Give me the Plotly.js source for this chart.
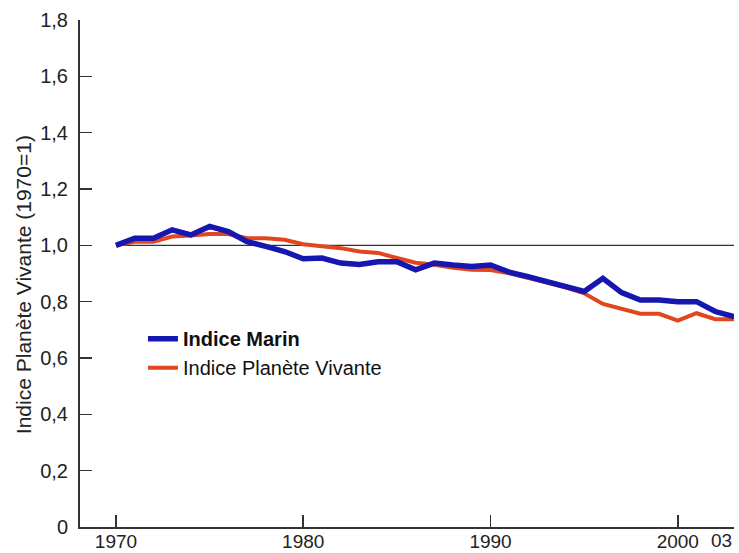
<!DOCTYPE html>
<html>
<head>
<meta charset="utf-8">
<script src="https://cdn.plot.ly/plotly-3.0.1.min.js"></script>
<style>html,body{margin:0;padding:0;background:#fff}#chart{width:739px;height:553px}</style>
</head>
<body>
<div id="chart"></div>
<script>
const years = [1970,1971,1972,1973,1974,1975,1976,1977,1978,1979,1980,1981,1982,1983,1984,1985,1986,1987,1988,1989,1990,1991,1992,1993,1994,1995,1996,1997,1998,1999,2000,2001,2002,2003];
const indiceMarin = [1.0,1.025,1.025,1.055,1.037,1.067,1.049,1.013,0.996,0.978,0.952,0.955,0.937,0.932,0.942,0.942,0.913,0.937,0.93,0.925,0.93,0.905,0.889,0.871,0.854,0.836,0.883,0.832,0.806,0.806,0.80,0.80,0.765,0.747];
const indicePlanete = [1.0,1.013,1.013,1.031,1.035,1.04,1.04,1.025,1.025,1.02,1.004,0.996,0.99,0.978,0.973,0.955,0.938,0.931,0.92,0.913,0.912,0.901,0.883,0.868,0.851,0.830,0.792,0.773,0.757,0.757,0.733,0.759,0.738,0.738];
const refX = [1970, 2003];
const refY = [1, 1];
const yTickVals = [0,0.2,0.4,0.6,0.8,1.0,1.2,1.4,1.6,1.8];
const yTickText = ["0","0,2","0,4","0,6","0,8","1,0","1,2","1,4","1,6","1,8"];
const xTickVals = [1970,1980,1990,2000,2003];
const xTickText = ["1970","1980","1990","2000","03"];
const yTitle = 'Indice Planète Vivante (1970=1)';

const traces = [
  {x: refX, y: refY, mode: 'lines', line: {color: '#333333', width: 1.3}, showlegend: false, hoverinfo: 'skip'},
  {x: years, y: indicePlanete, mode: 'lines', name: 'Indice Planète Vivante', line: {color: '#e2461c', width: 4}, legendrank: 2},
  {x: years, y: indiceMarin, mode: 'lines', name: '<b>Indice Marin</b>', line: {color: '#1616b0', width: 5.5}, legendrank: 1}
];

// last tick label ("03") is right-aligned to its tick, as in the original
const n = xTickVals.length;
const shownTickText = xTickText.map((t, i) => (i === n - 1 ? '' : t));

const layout = {
  width: 739, height: 553,
  margin: {l: 80, r: 5, t: 20, b: 26},
  paper_bgcolor: '#ffffff', plot_bgcolor: '#ffffff',
  font: {family: 'Liberation Sans, Arial, sans-serif', size: 20, color: '#222222'},
  showlegend: true,
  legend: {x: 0.0963, y: 0.41, xanchor: 'left', yanchor: 'top', bgcolor: 'rgba(0,0,0,0)', font: {size: 20, color: '#111111'}},
  xaxis: {
    range: [1968.08, 2003], tickvals: xTickVals, ticktext: shownTickText,
    ticks: 'inside', ticklen: 12, tickwidth: 1.5, tickcolor: '#333333',
    showline: true, linecolor: '#333333', linewidth: 2, showgrid: false, zeroline: false,
    ticklabelstandoff: -4,
    tickfont: {size: 19}
  },
  yaxis: {
    range: [0, 1.8], tickvals: yTickVals, ticktext: yTickText,
    ticks: 'inside', ticklen: 12, tickwidth: 1.5, tickcolor: '#333333',
    showline: true, linecolor: '#333333', linewidth: 2, showgrid: false, zeroline: false,
    ticklabelstandoff: 6,
    tickfont: {size: 20}
  },
  annotations: [
    {
      text: yTitle, textangle: -90, xref: 'paper', yref: 'paper',
      x: (23 - 80) / 654, y: 0.477, xanchor: 'center', yanchor: 'middle',
      showarrow: false, font: {size: 21, color: '#222222'}
    },
    {
      text: xTickText[n - 1], xref: 'x', yref: 'paper',
      x: xTickVals[n - 1], y: 0, xanchor: 'right', yanchor: 'top', yshift: -1,
      showarrow: false, font: {size: 19, color: '#222222'}
    }
  ]
};

Plotly.newPlot('chart', traces, layout, {displayModeBar: false, staticPlot: true});
</script>
</body>
</html>
